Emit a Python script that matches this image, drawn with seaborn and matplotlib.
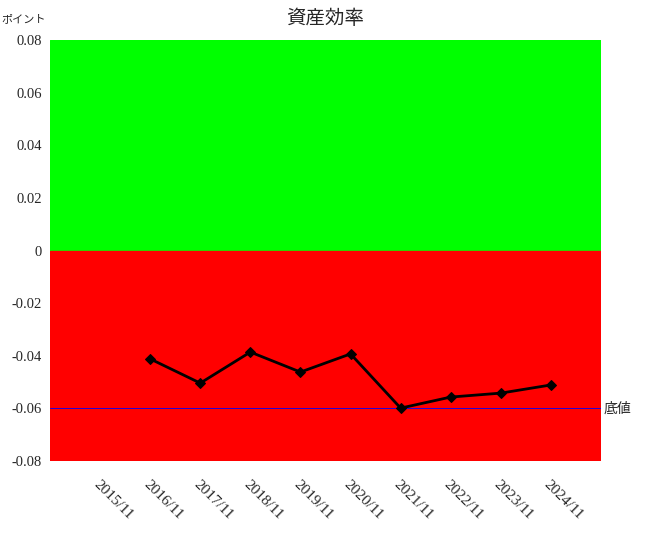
import matplotlib
matplotlib.use("Agg")
import matplotlib.pyplot as plt
import seaborn as sns
import numpy as np
import pandas as pd

periods = ["2015/11", "2016/11", "2017/11", "2018/11", "2019/11",
           "2020/11", "2021/11", "2022/11", "2023/11", "2024/11"]
values = [np.nan, -0.0412, -0.0504, -0.0386, -0.0462,
          -0.0393, -0.0599, -0.0557, -0.0542, -0.0511]
floor_value = -0.06
y_ticks = [-0.08, -0.06, -0.04, -0.02, 0, 0.02, 0.04, 0.06, 0.08]
y_tick_labels = ["-0.08", "-0.06", "-0.04", "-0.02", "0", "0.02", "0.04", "0.06", "0.08"]

sns.set_style("white")
plt.rcParams["font.family"] = ["Liberation Serif", "Noto Sans CJK JP"]

df = pd.DataFrame({"pos": np.arange(len(periods)), "value": values})

fig = plt.figure(figsize=(6.5, 5.4), dpi=100)
ax = fig.add_axes([50 / 650, 1 - 461 / 540, 551 / 650, 421 / 540])

# background bands
ax.axhspan(0, 0.08, color="#00ff00", zorder=0)
ax.axhspan(-0.08, 0, color="#ff0000", zorder=0)

# floor line
ax.axhline(floor_value, color="#0000ff", linewidth=0.6, zorder=1)
ax.text(1.005, floor_value, "底値", transform=ax.get_yaxis_transform(),
        va="center", ha="left", fontsize=10, family=["Noto Sans CJK JP"])

sns.lineplot(data=df, x="pos", y="value", ax=ax, color="black",
             linewidth=2.0, marker="D", markersize=5.5, markeredgecolor="black",
             zorder=3)

ax.set_xlim(-1, 10)
ax.set_ylim(-0.08, 0.08)
ax.set_xticks(np.arange(len(periods)))
ax.set_xticklabels(periods, rotation=-45, ha="left", rotation_mode="anchor", fontsize=11)
ax.set_yticks(y_ticks)
ax.set_yticklabels(y_tick_labels, fontsize=10.5)
ax.tick_params(axis="x", length=0, pad=12)
ax.tick_params(axis="y", length=0, pad=6)
ax.set_xlabel("")
ax.set_ylabel("")
for s in ax.spines.values():
    s.set_visible(False)

fig.text(325 / 650, 1 - 18 / 540, "資産効率", ha="center", va="center",
         fontsize=14, family=["Noto Sans CJK JP"])
fig.text(1 / 650, 1 - 19 / 540, "ポイント", ha="left", va="center",
         fontsize=8, family=["Noto Sans CJK JP"])

fig.savefig("out.png", dpi=100)
